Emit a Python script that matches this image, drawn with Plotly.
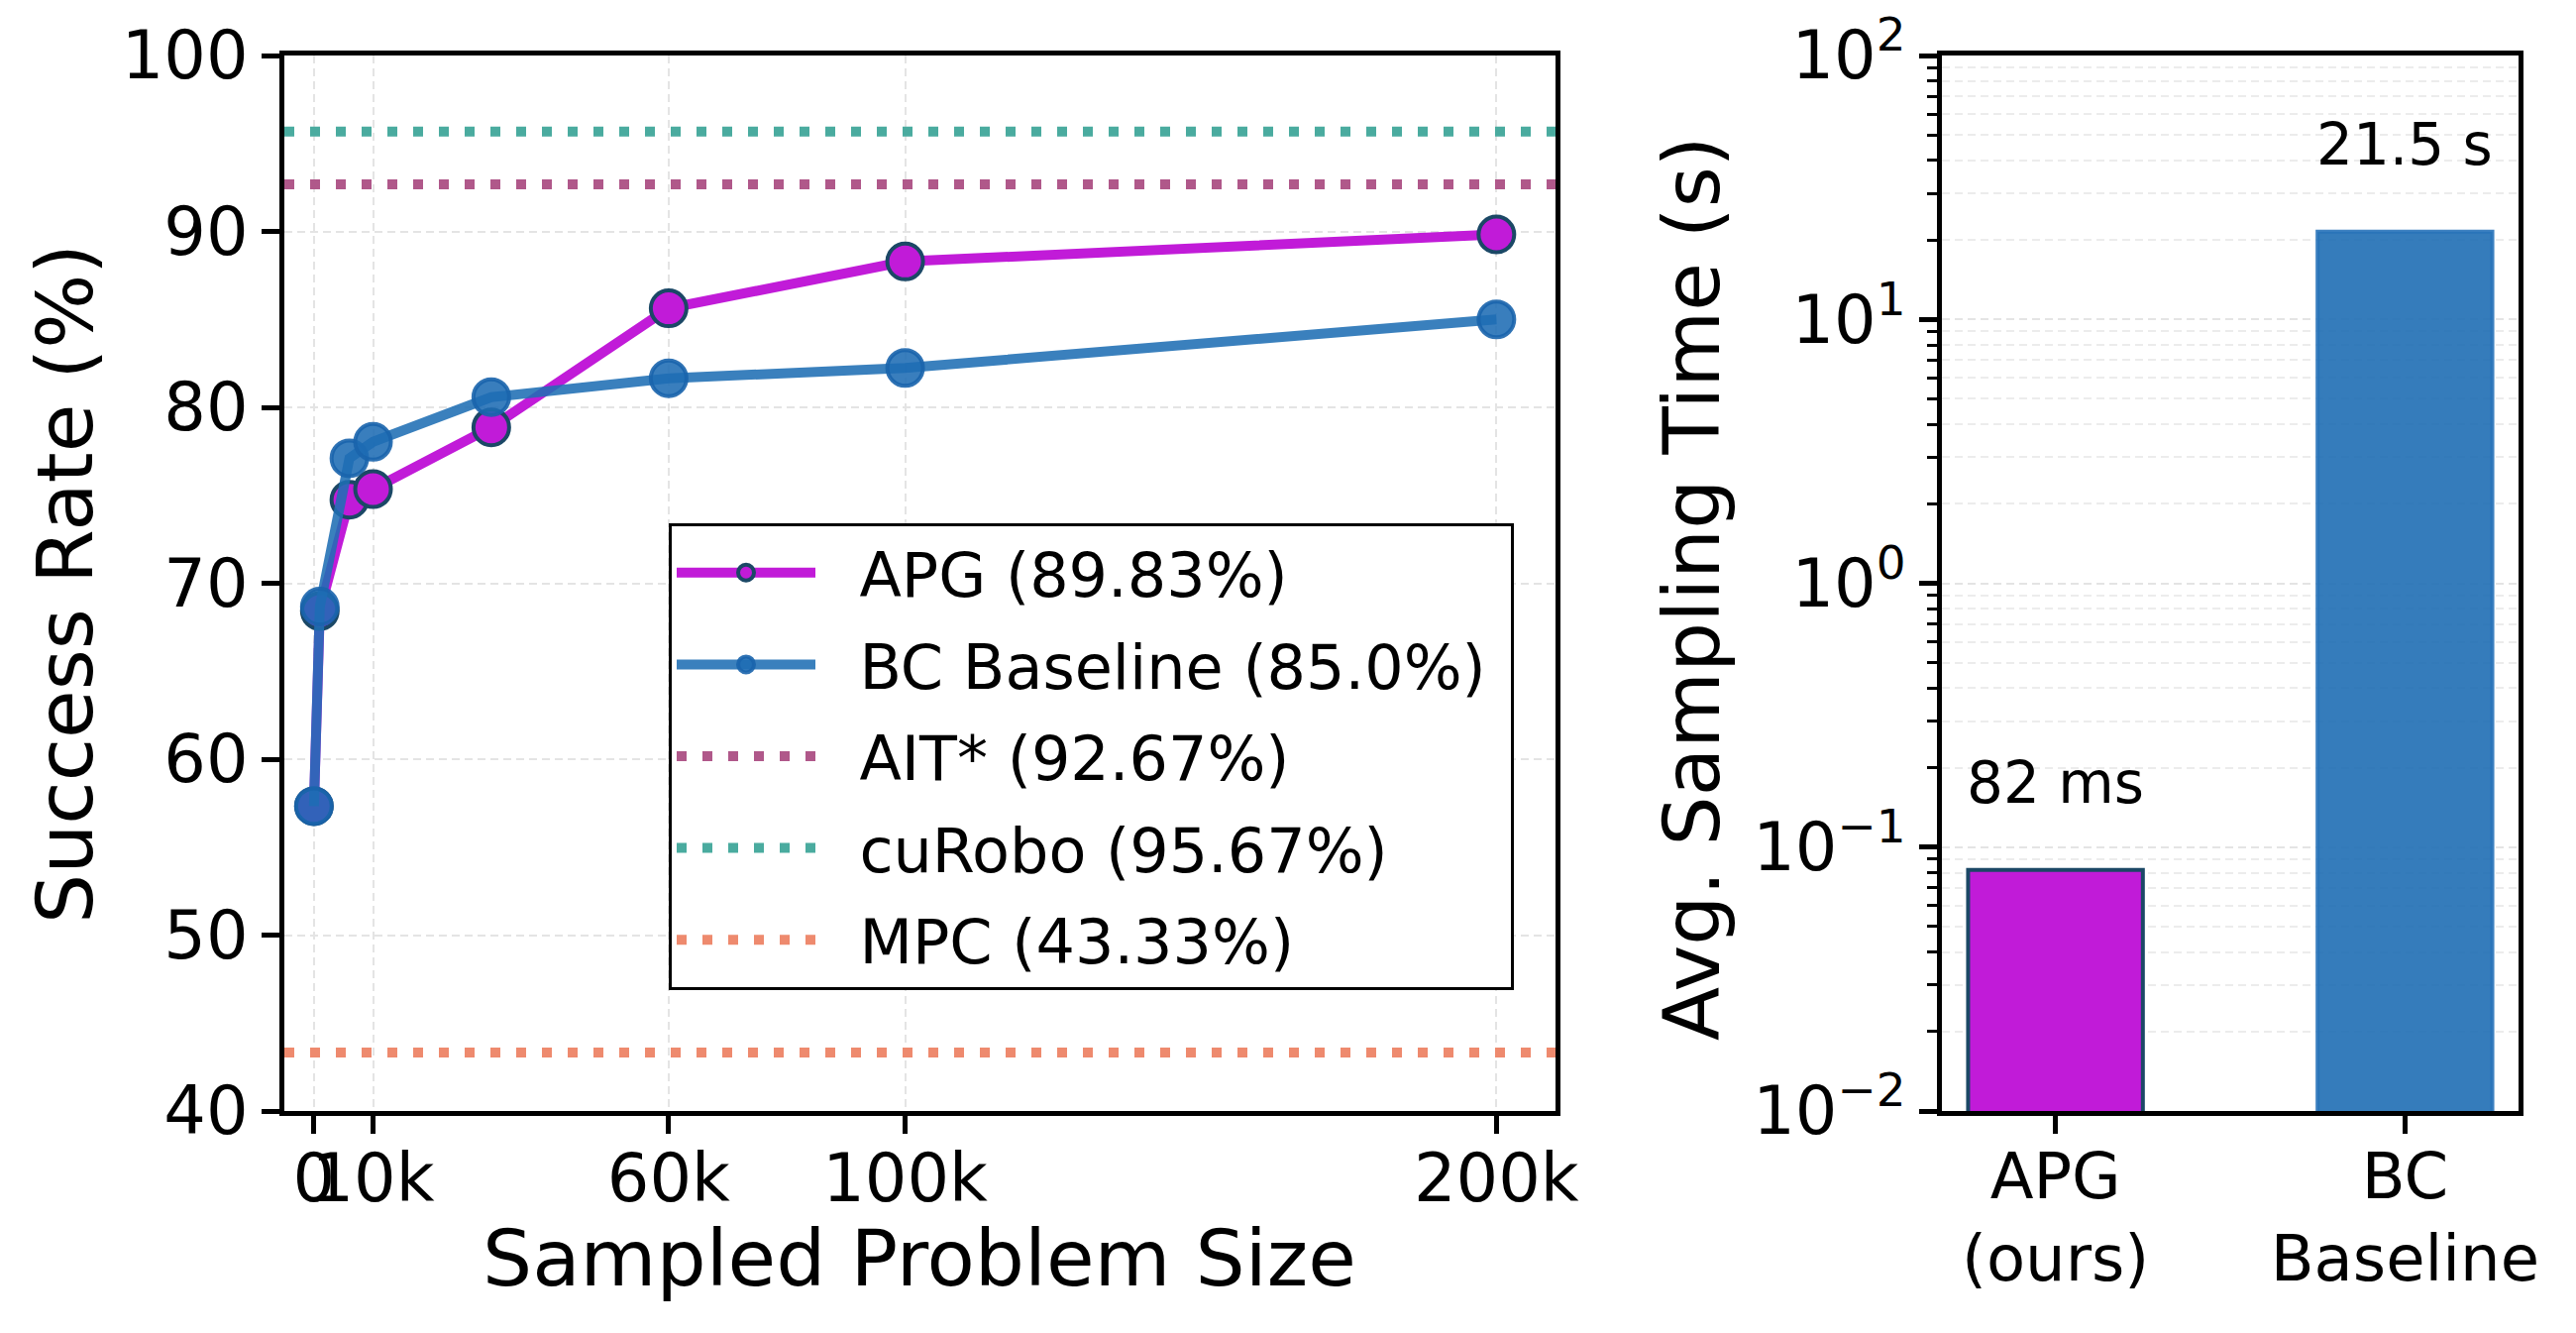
import math
import plotly.graph_objects as go

# ---------------- data ----------------
sizes = [0, 1000, 6000, 10000, 30000, 60000, 100000, 200000]
apg_rate = [57.33, 68.42, 74.75, 75.35, 78.86, 85.63, 88.29, 89.83]
bc_rate = [57.33, 68.67, 77.10, 78.04, 80.58, 81.65, 82.24, 85.00]

baseline_names = ["AIT*", "cuRobo", "MPC"]
baseline_rates = [92.67, 95.67, 43.33]
baseline_colors = ["#B0588A", "#4AAB9F", "#EE8A6E"]

x_tickvals = [0, 10000, 60000, 100000, 200000]
x_ticktext = ["0", "10k", "60k", "100k", "200k"]
y_tickvals = [40, 50, 60, 70, 80, 90, 100]

methods = ["APG<br>(ours)", "BC<br>Baseline"]
times = [0.082, 21.5]
time_labels = ["82 ms", "21.5 s"]
log_tickvals = [0.01, 0.1, 1, 10, 100]
log_ticktext = ["10<sup>\u22122</sup>", "10<sup>\u22121</sup>", "10<sup>0</sup>",
                "10<sup>1</sup>", "10<sup>2</sup>"]
minor_log_ticks = [k * d for d in [0.01, 0.1, 1, 10] for k in range(2, 10)]

# ---------------- style ----------------
FONT = "DejaVu Sans"
W, H = 2600, 1345
APG_C = "#C11BD8"
APG_EDGE = "#1B4866"
BC_LINE = "rgba(31,110,180,0.88)"
BC_FILL = "rgba(30,108,180,0.88)"
BC_EDGE = "rgba(26,100,172,0.9)"
GRID = "#e4e4e4"
PAD = "\u00a0\u00a0"

left_dom = [287 / W, 1570 / W]
right_dom = [1960 / W, 2542 / W]
y_dom = [1 - 1121 / H, 1 - 56 / H]

fig = go.Figure()

fig.add_trace(go.Scatter(
    x=sizes, y=apg_rate, mode="lines+markers",
    name=f"{PAD}APG ({apg_rate[-1]:.2f}%)", legendgroup="a", legendrank=1,
    line=dict(color=APG_C, width=10),
    marker=dict(size=36, color=APG_C, line=dict(color=APG_EDGE, width=4)),
    xaxis="x", yaxis="y",
))
fig.add_trace(go.Scatter(
    x=sizes, y=bc_rate, mode="lines+markers",
    name=f"{PAD}BC Baseline ({bc_rate[-1]:.1f}%)\u00a0", legendgroup="b", legendrank=2,
    line=dict(color=BC_LINE, width=10),
    marker=dict(size=36, color=BC_FILL, line=dict(color=BC_EDGE, width=4)),
    xaxis="x", yaxis="y",
))

shapes = []
for i, (nm, val, col) in enumerate(zip(baseline_names, baseline_rates, baseline_colors)):
    shapes.append(dict(
        type="line", xref="x domain", yref="y", x0=0, x1=1, y0=val, y1=val,
        line=dict(color=col, width=10, dash="10px,16px"),
        showlegend=True, name=f"{PAD}{nm} ({val:.2f}%)", legendgroup=f"c{i}",
        legendrank=3 + i, layer="above",
    ))

fig.add_trace(go.Bar(
    x=methods, y=times, width=0.5,
    marker=dict(color=[APG_C, "rgba(31,110,180,0.9)"],
                line=dict(color=[APG_EDGE, "rgba(40,115,185,0.9)"], width=4)),
    showlegend=False, xaxis="x2", yaxis="y2",
))

annotations = []
for m, t, lab in zip(methods, times, time_labels):
    annotations.append(dict(
        x=m, y=math.log10(t) + 0.33, xref="x2", yref="y2", text=lab,
        showarrow=False, font=dict(family=FONT, size=58, color="black"),
        xanchor="center", yanchor="middle",
    ))

annotations += [
    dict(text="Success Rate (%)", x=66 / W, y=1 - 589 / H, xref="paper", yref="paper",
         textangle=-90, showarrow=False, font=dict(family=FONT, size=79, color="black"),
         xanchor="center", yanchor="middle"),
    dict(text="Sampled Problem Size", x=928 / W, y=1 - 1270 / H, xref="paper", yref="paper",
         showarrow=False, font=dict(family=FONT, size=79, color="black"),
         xanchor="center", yanchor="middle"),
    dict(text="Avg. Sampling Time (s)", x=1708 / W, y=1 - 594 / H, xref="paper", yref="paper",
         textangle=-90, showarrow=False, font=dict(family=FONT, size=79, color="black"),
         xanchor="center", yanchor="middle"),
]

axis_common = dict(
    showline=True, linecolor="black", linewidth=5, mirror=True,
    ticks="outside", ticklen=18, tickwidth=5, tickcolor="black",
    zeroline=False, tickangle=0, automargin=False,
)
TF = dict(family=FONT, size=67, color="black")

fig.update_layout(
    width=W, height=H, autosize=False,
    margin=dict(l=0, r=0, t=0, b=0),
    paper_bgcolor="white", plot_bgcolor="white",
    font=dict(family=FONT, color="black"),
    shapes=shapes, annotations=annotations,
    xaxis=dict(domain=left_dom, range=[-5000, 210000], tickvals=x_tickvals,
               ticktext=x_ticktext, showgrid=True, gridcolor=GRID, gridwidth=2,
               griddash="8px,5px", anchor="y", tickfont=TF, ticklabelstandoff=-12,
               **axis_common),
    yaxis=dict(domain=y_dom, range=[40, 100], tickvals=y_tickvals, showgrid=True,
               gridcolor=GRID, gridwidth=2, griddash="8px,5px", anchor="x",
               tickfont=TF, **axis_common),
    xaxis2=dict(domain=right_dom, range=[-0.325, 1.325], type="category", showgrid=False,
                anchor="y2", tickfont=dict(family=FONT, size=64, color="black"),
                ticklabelstandoff=-12, **axis_common),
    yaxis2=dict(domain=y_dom, type="log", range=[-2, 2], tickvals=log_tickvals,
                ticktext=log_ticktext, showgrid=True, gridcolor=GRID, gridwidth=2,
                griddash="8px,5px", anchor="x2", tickfont=TF,
                minor=dict(tickvals=minor_log_ticks, ticks="outside", ticklen=10,
                           tickwidth=3, tickcolor="black",
                           showgrid=True, gridcolor="#ececec", gridwidth=1.5,
                           griddash="8px,5px"),
                **axis_common),
    legend=dict(x=675 / W, y=1 - 528 / H, xanchor="left", yanchor="top",
                bgcolor="white", bordercolor="black", borderwidth=3,
                font=dict(family=FONT, size=62, color="black"),
                itemwidth=140, tracegroupgap=9, traceorder="grouped"),
    showlegend=True,
)

fig.write_html("out.html")
